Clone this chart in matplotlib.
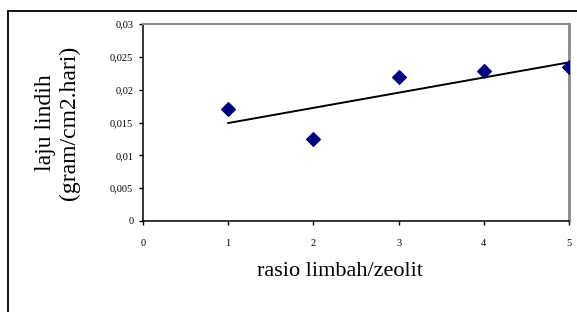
import numpy as np
import matplotlib.pyplot as plt
from matplotlib.patches import Rectangle
from matplotlib.ticker import FixedLocator

# data
rasio = [1, 2, 3, 4, 5]
laju = [0.0170, 0.0125, 0.0220, 0.0228, 0.0234]

x_ticks = [0, 1, 2, 3, 4, 5]
y_ticks = [0, 0.005, 0.01, 0.015, 0.02, 0.025, 0.03]
y_labels = ["0", "0,005", "0,01", "0,015", "0,02", "0,025", "0,03"]

plt.rcParams['font.family'] = ['Liberation Serif', 'DejaVu Serif']

W, H = 577, 312
fig = plt.figure(figsize=(W / 100, H / 100), dpi=100)

# outer chart frame (runs off the right and bottom edges)
fig.patches.append(Rectangle((7.5 / W, -0.1), 1.2, 1 - 10.5 / H + 0.1,
                             transform=fig.transFigure, fill=False,
                             edgecolor="black", linewidth=1.3))

left, right, top, bottom = 143, 569, 24, 221
ax = fig.add_axes([left / W, 1 - bottom / H, (right - left) / W, (bottom - top) / H])

ax.scatter(rasio, laju, marker="D", s=48, color="#00007f", zorder=3)

# linear trend line
k, b = np.polyfit(rasio, laju, 1)
xt = np.array([rasio[0], rasio[-1]])
ax.plot(xt, k * xt + b, color="black", linewidth=1.4, zorder=2)

ax.set_xlim(0, 5)
ax.set_ylim(0, 0.03)
ax.xaxis.set_major_locator(FixedLocator(x_ticks))
ax.set_xticklabels([str(t) for t in x_ticks], fontsize=7.5)
ax.set_yticks(y_ticks)
ax.set_yticklabels(y_labels, fontsize=7.5)
ax.tick_params(axis="x", direction="out", length=3, width=1, pad=10)
ax.tick_params(axis="y", direction="out", length=3, width=1, pad=4)

ax.spines["left"].set_color("black")
ax.spines["bottom"].set_color("black")
ax.spines["left"].set_linewidth(1.1)
ax.spines["bottom"].set_linewidth(1.1)
ax.spines["top"].set_color("#888888")
ax.spines["right"].set_color("#888888")
ax.spines["top"].set_linewidth(1.5)
ax.spines["right"].set_linewidth(2)

ax.set_xlabel("rasio limbah/zeolit", fontsize=16)
ax.xaxis.set_label_coords((340 - left) / (right - left), -(262 - bottom) / (bottom - top))
ax.set_ylabel("laju lindih\n(gram/cm2.hari)", fontsize=17, linespacing=1.15)
ax.yaxis.set_label_coords(-(left - 80) / (right - left), 0.5)

fig.savefig("out.png", dpi=100)
